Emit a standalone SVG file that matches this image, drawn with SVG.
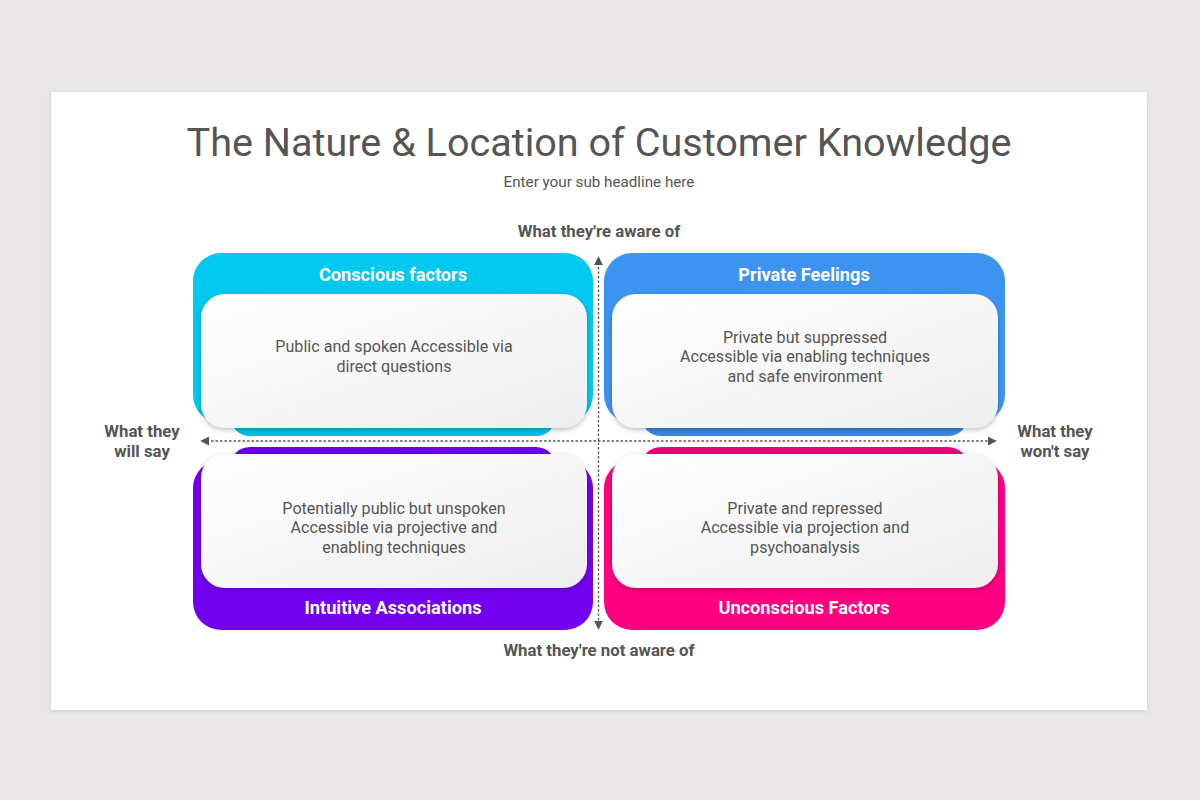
<svg xmlns="http://www.w3.org/2000/svg" width="1200" height="800" viewBox="0 0 1200 800">
<defs>
<style>
text{font-family:Roboto,"Liberation Sans",Arial,sans-serif}
.title{font-size:39.6px;fill:#555;text-anchor:middle}
.sub{font-size:15.2px;fill:#555;text-anchor:middle}
.axis{font-size:16.8px;font-weight:bold;fill:#555;text-anchor:middle}
.head{font-size:18.2px;font-weight:bold;fill:#fff;text-anchor:middle}
.body{font-size:16.1px;fill:#555;text-anchor:middle}
.inner{fill:url(#ig);filter:url(#sh)}
.dash{stroke:#555;stroke-width:1.3;stroke-dasharray:2.5 2;fill:none}
</style>
<linearGradient id="ig" x1="0" y1="0" x2="1" y2="1">
<stop offset="0" stop-color="#ffffff"/>
<stop offset="1" stop-color="#eeeeee"/>
</linearGradient>
<filter id="sh" x="-10%" y="-10%" width="120%" height="130%">
<feDropShadow dx="0" dy="2" stdDeviation="2.5" flood-color="#000" flood-opacity="0.25"/>
</filter>
<filter id="card" x="-5%" y="-5%" width="110%" height="110%">
<feDropShadow dx="0" dy="1" stdDeviation="2" flood-color="#000" flood-opacity="0.12"/>
</filter>
<marker id="ah" viewBox="0 0 10 10" refX="8" refY="5" markerWidth="9" markerHeight="9" markerUnits="userSpaceOnUse" orient="auto-start-reverse">
<path d="M0,0 L10,5 L0,10 z" fill="#555"/>
</marker>
</defs>
<rect width="1200" height="800" fill="#e9e7e8"/>
<rect x="51" y="92" width="1096" height="618" fill="#fff" filter="url(#card)"/>
<text class="title" x="599" y="156">The Nature &amp; Location of Customer Knowledge</text>
<text class="sub" x="599" y="187">Enter your sub headline here</text>
<text class="axis" x="599" y="237">What they're aware of</text>
<text class="axis" x="599" y="656">What they're not aware of</text>
<text class="axis" x="142" y="437">What they</text>
<text class="axis" x="142" y="457">will say</text>
<text class="axis" x="1055" y="437">What they</text>
<text class="axis" x="1055" y="457">won't say</text>

<g id="conscious">
<rect x="193" y="253" width="400" height="170" rx="28" fill="#00c8ef"/>
<rect x="230" y="395" width="326" height="41" rx="20" fill="#00c0e0"/>
<text class="head" x="393" y="281">Conscious factors</text>
<rect class="inner" x="201" y="294" width="386" height="134" rx="24"/>
<text class="body" x="394" y="352">Public and spoken Accessible via</text>
<text class="body" x="394" y="372">direct questions</text>
</g>

<g id="private">
<rect x="604" y="253" width="401" height="170" rx="28" fill="#3d94f0"/>
<rect x="641" y="395" width="327" height="41" rx="20" fill="#3a86e0"/>
<text class="head" x="804" y="281">Private Feelings</text>
<rect class="inner" x="612" y="294" width="386" height="134" rx="24"/>
<text class="body" x="805" y="343">Private but suppressed</text>
<text class="body" x="805" y="362">Accessible via enabling techniques</text>
<text class="body" x="805" y="382">and safe environment</text>
</g>

<g id="intuitive">
<rect x="230" y="447" width="326" height="41" rx="20" fill="#6a00e0"/>
<rect x="193" y="460" width="400" height="170" rx="28" fill="#7400f0"/>
<text class="head" x="393" y="614">Intuitive Associations</text>
<rect class="inner" x="201" y="454" width="386" height="134" rx="24"/>
<text class="body" x="394" y="514">Potentially public but unspoken</text>
<text class="body" x="394" y="533">Accessible via projective and</text>
<text class="body" x="394" y="553">enabling techniques</text>
</g>

<g id="unconscious">
<rect x="641" y="447" width="327" height="41" rx="20" fill="#ef0078"/>
<rect x="604" y="460" width="401" height="170" rx="28" fill="#ff0080"/>
<text class="head" x="804" y="614">Unconscious Factors</text>
<rect class="inner" x="612" y="454" width="386" height="134" rx="24"/>
<text class="body" x="805" y="514">Private and repressed</text>
<text class="body" x="805" y="533">Accessible via projection and</text>
<text class="body" x="805" y="553">psychoanalysis</text>
</g>

<g id="connectors">
<line class="dash" x1="598.5" y1="258" x2="598.5" y2="628" marker-start="url(#ah)" marker-end="url(#ah)"/>
<line class="dash" x1="202" y1="441" x2="995" y2="441" marker-start="url(#ah)" marker-end="url(#ah)"/>
</g>
</svg>
